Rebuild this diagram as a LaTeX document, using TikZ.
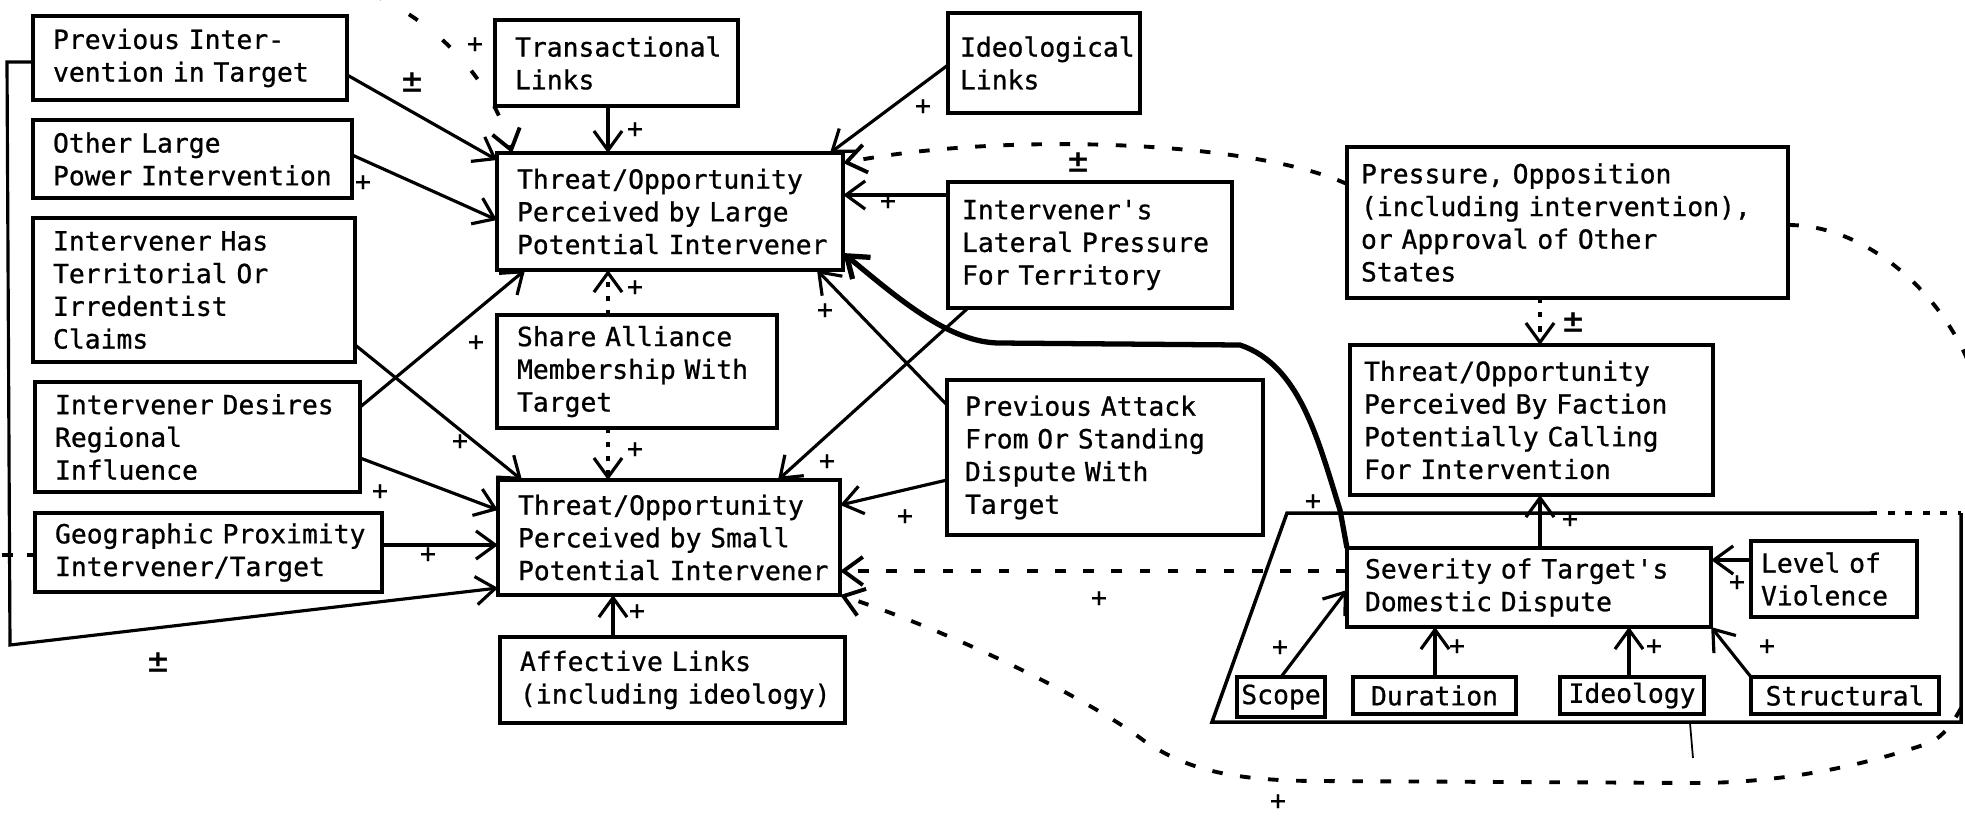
\documentclass[tikz,border=0pt]{standalone}
\usepackage{fontspec}
\newfontfamily\tw[Ligatures=TeXOff,FakeBold=0.8]{DejaVu Sans Mono}
\usetikzlibrary{arrows.meta,calc}
\hyphenpenalty=10000
\exhyphenpenalty=10000

\begin{document}
\begin{tikzpicture}[x=0.01cm,y=-0.01cm,
  every node/.style={font=\tw\fontsize{7.5pt}{9.3pt}\selectfont},
  bx/.style={draw,line width=1.1pt,rectangle,anchor=north west,align=left,
             inner xsep=0.2cm,inner ysep=0pt,outer sep=0pt,
             execute at begin node={\hyphenpenalty=10000}},
  sb/.style={draw,line width=1.1pt,rectangle,anchor=north west,align=center,
             inner sep=0pt,outer sep=0pt},
  ar/.style={line width=0.9pt,-{Straight Barb[length=5.5pt,width=8pt]}},
  dar/.style={ar,line width=1.1pt,dash pattern=on 3pt off 5pt},
  dotar/.style={ar,dash pattern=on 1.5pt off 2.5pt},
  dsh/.style={line width=1.1pt,dash pattern=on 3pt off 4pt},
  lbl/.style={inner sep=0pt},
  pm/.style={inner sep=0pt,font=\tw\fontsize{9.5pt}{10pt}\selectfont},
]
\useasboundingbox (0,0) rectangle (1965,817);
\fill[white] (0,0) rectangle (1965,817);
\clip (0,0) rectangle (1965,817);

% ---- left column of causes
\node[bx,text width=2.74cm,minimum height=0.84cm] (prevint) at (33,16) {Previous Inter-\\vention in Target};
\node[bx,text width=2.79cm,minimum height=0.78cm] (otherlarge) at (33,120) {Other Large\\Power~Intervention};
\node[bx,text width=2.82cm,minimum height=1.44cm] (territorial) at (33,218) {Intervener Has\\Territorial Or\\Irredentist\\Claims};
\node[bx,text width=2.85cm,minimum height=1.10cm] (desires) at (35,382) {Intervener~Desires\\Regional\\Influence};
\node[bx,text width=3.07cm,minimum height=0.79cm] (geo) at (35,513) {Geographic~Proximity\\Intervener/Target};

% ---- centre
\node[bx,text width=2.03cm,minimum height=0.86cm] (transactional) at (495,20) {Transactional\\Links};
\node[bx,text width=3.06cm,minimum height=1.17cm] (large) at (497,153) {Threat/Opportunity\\Perceived by Large\\Potential~Intervener};
\node[bx,text width=2.40cm,minimum height=1.13cm] (alliance) at (497,315) {Share Alliance\\Membership With\\Target};
\node[bx,text width=3.02cm,minimum height=1.15cm] (small) at (498,480) {Threat/Opportunity\\Perceived by Small\\Potential~Intervener};
\node[bx,text width=3.05cm,minimum height=0.86cm] (affective) at (500,637) {Affective Links\\(including~ideology)};

\node[bx,inner xsep=0.12cm,text width=1.68cm,minimum height=1.00cm] (ideological) at (948,13) {Ideological\\Links};
\node[bx,inner xsep=0.14cm,text width=2.56cm,minimum height=1.26cm] (lateral) at (948,182) {Intervener's\\Lateral~Pressure\\For Territory};
\node[bx,inner xsep=0.18cm,text width=2.80cm,minimum height=1.55cm] (prevattack) at (947,380) {Previous Attack\\From Or Standing\\Dispute With\\Target};

% ---- right side
\node[bx,inner xsep=0.14cm,text width=4.13cm,minimum height=1.51cm] (pressure) at (1347,147) {Pressure, Opposition\\(including~intervention),\\or Approval of Other\\States};
\node[bx,inner xsep=0.14cm,text width=3.35cm,minimum height=1.50cm] (faction) at (1350,345) {Threat/Opportunity\\Perceived By Faction\\Potentially Calling\\For Intervention};
\node[bx,inner xsep=0.18cm,text width=3.28cm,minimum height=0.79cm] (severity) at (1347,548) {Severity~of~Target's\\Domestic Dispute};
\node[bx,inner xsep=0.10cm,text width=1.46cm,minimum height=0.76cm] (violence) at (1751,541) {Level of\\Violence};
\node[sb,minimum width=0.88cm,minimum height=0.40cm] (scope) at (1237,677) {Scope};
\node[sb,minimum width=1.63cm,minimum height=0.37cm] (duration) at (1353,677) {Duration};
\node[sb,minimum width=1.44cm,minimum height=0.37cm] (ideology) at (1560,677) {Ideology};
\node[sb,minimum width=1.88cm,minimum height=0.37cm] (structural) at (1751,677) {Structural};

% ---- enclosure round the domestic dispute
\coordinate (e0) at (1870,513);
\coordinate (e1) at (1287,513);
\coordinate (e2) at (1212,722);
\coordinate (e3) at (1961,722);
\coordinate (e4) at (1961,513);
\draw[line width=1pt] (e0) -- (e1) -- (e2) -- (e3) -- (e4);
\draw[line width=1pt,dash pattern=on 2pt off 3pt] (e0) -- (e4);
\coordinate (t1) at (1690,723);
\coordinate (t2) at (1693,758);
\draw[line width=0.5pt] (t1) -- (t2);

% ---- connectors into the large intervener
\draw[ar] (prevint.east |- 0,75) -- (large.west |- 0,160);
\draw[ar] (otherlarge.east |- 0,155) -- (large.west |- 0,220);
\draw[ar] (transactional.south -| 608,0) -- (large.north -| 608,0);
\draw[ar] (ideological.west |- 0,65) -- (large.north -| 830,0);
\draw[ar] (lateral.west |- 0,195) -- (large.east |- 0,195);
\draw[dar] (pressure.west |- 0,184) .. controls (1250,140) and (1000,132) .. (large.east |- 0,163);
\draw[dotar] (alliance.north -| 608,0) -- (large.south -| 608,0);
\draw[ar] (desires.east |- 0,407) -- (large.south -| 525,0);
\draw[ar] (prevattack.west |- 0,405) -- (large.south -| 817,0);
\coordinate (topdash) at (372,-6);
\draw[ar,line width=1.1pt,dash pattern=on 3pt off 9pt] (topdash) .. controls (450,30) and (495,90) .. (large.north -| 512,0);
\draw[ar,line width=1.5pt] (severity.north west) -- (1340,510)
  .. controls (1318,440) and (1300,365) .. (1240,345)
  -- (1000,343) .. controls (950,343) and (900,300) .. (large.east |- 0,253);

% ---- connectors into the small intervener
\draw[dotar] (alliance.south -| 608,0) -- (small.north -| 608,0);
\draw[ar] (affective.north -| 613,0) -- (small.south -| 613,0);
\draw[ar] (territorial.east |- 0,345) -- (small.north -| 522,0);
\draw[ar] (desires.east |- 0,458) -- (small.west |- 0,510);
\draw[ar] (geo.east |- 0,545) -- (small.west |- 0,545);
\coordinate (loopa) at (7,62);
\coordinate (loopb) at (10,645);
\draw[ar] (prevint.west |- 0,62) -- (loopa) -- (loopb) -- (small.west |- 0,588);
\coordinate (stub) at (2,555);
\draw[dsh] (stub) -- (geo.west |- 0,555);
\draw[ar] (lateral.south -| 968,0) -- (small.north -| 778,0);
\draw[ar] (prevattack.west |- 0,480) -- (small.east |- 0,505);
\draw[dar] (severity.west |- 0,571) -- (small.east |- 0,571);
\draw[dar] (pressure.east |- 0,225) .. controls (1870,225) and (1950,300) .. (1975,380)
  .. controls (2000,500) and (2000,700) .. (1932,742)
  .. controls (1880,760) and (1800,782) .. (1700,783)
  -- (1320,781) .. controls (1220,781) and (1180,765) .. (1143,740)
  .. controls (1090,700) and (960,635) .. (small.south east);

% ---- faction and domestic dispute
\draw[dotar] (pressure.south -| 1540,0) -- (faction.north -| 1540,0);
\draw[ar] (severity.north -| 1540,0) -- (faction.south -| 1540,0);
\draw[ar] (violence.west |- 0,560) -- (severity.east |- 0,560);
\draw[ar] (duration.north -| 1435,0) -- (severity.south -| 1435,0);
\draw[ar] (ideology.north -| 1629,0) -- (severity.south -| 1629,0);
\draw[ar] (structural.north west) -- (severity.south east);
\draw[ar] (scope.north) -- (severity.west |- 0,590);

% ---- signs
\node[lbl] (s1) at (363,183) {+};
\node[pm] (s2) at (412,82) {±};
\node[lbl] (s3) at (475,45) {+};
\node[lbl] (s4) at (635,130) {+};
\node[lbl] (s5) at (923,107) {+};
\node[pm] (s6) at (1078,162) {±};
\node[lbl] (s7) at (888,202) {+};
\node[lbl] (s8) at (825,311) {+};
\node[lbl] (s9) at (635,288) {+};
\node[lbl] (s10) at (476,343) {+};
\node[lbl] (s11) at (460,442) {+};
\node[lbl] (s12) at (380,492) {+};
\node[lbl] (s13) at (428,555) {+};
\node[lbl] (s14) at (635,450) {+};
\node[lbl] (s15) at (827,462) {+};
\node[lbl] (s16) at (905,517) {+};
\node[lbl] (s17) at (1099,599) {+};
\node[lbl] (s18) at (637,612) {+};
\node[pm] (s19) at (158,662) {±};
\node[lbl] (s20) at (1278,802) {+};
\node[pm] (s21) at (1573,322) {±};
\node[lbl] (s22) at (1313,502) {+};
\node[lbl] (s23) at (1570,520) {+};
\node[lbl] (s24) at (1280,648) {+};
\node[lbl] (s25) at (1457,647) {+};
\node[lbl] (s26) at (1654,647) {+};
\node[lbl] (s27) at (1767,647) {+};
\node[lbl] (s28) at (1737,583) {+};
\end{tikzpicture}
\end{document}
